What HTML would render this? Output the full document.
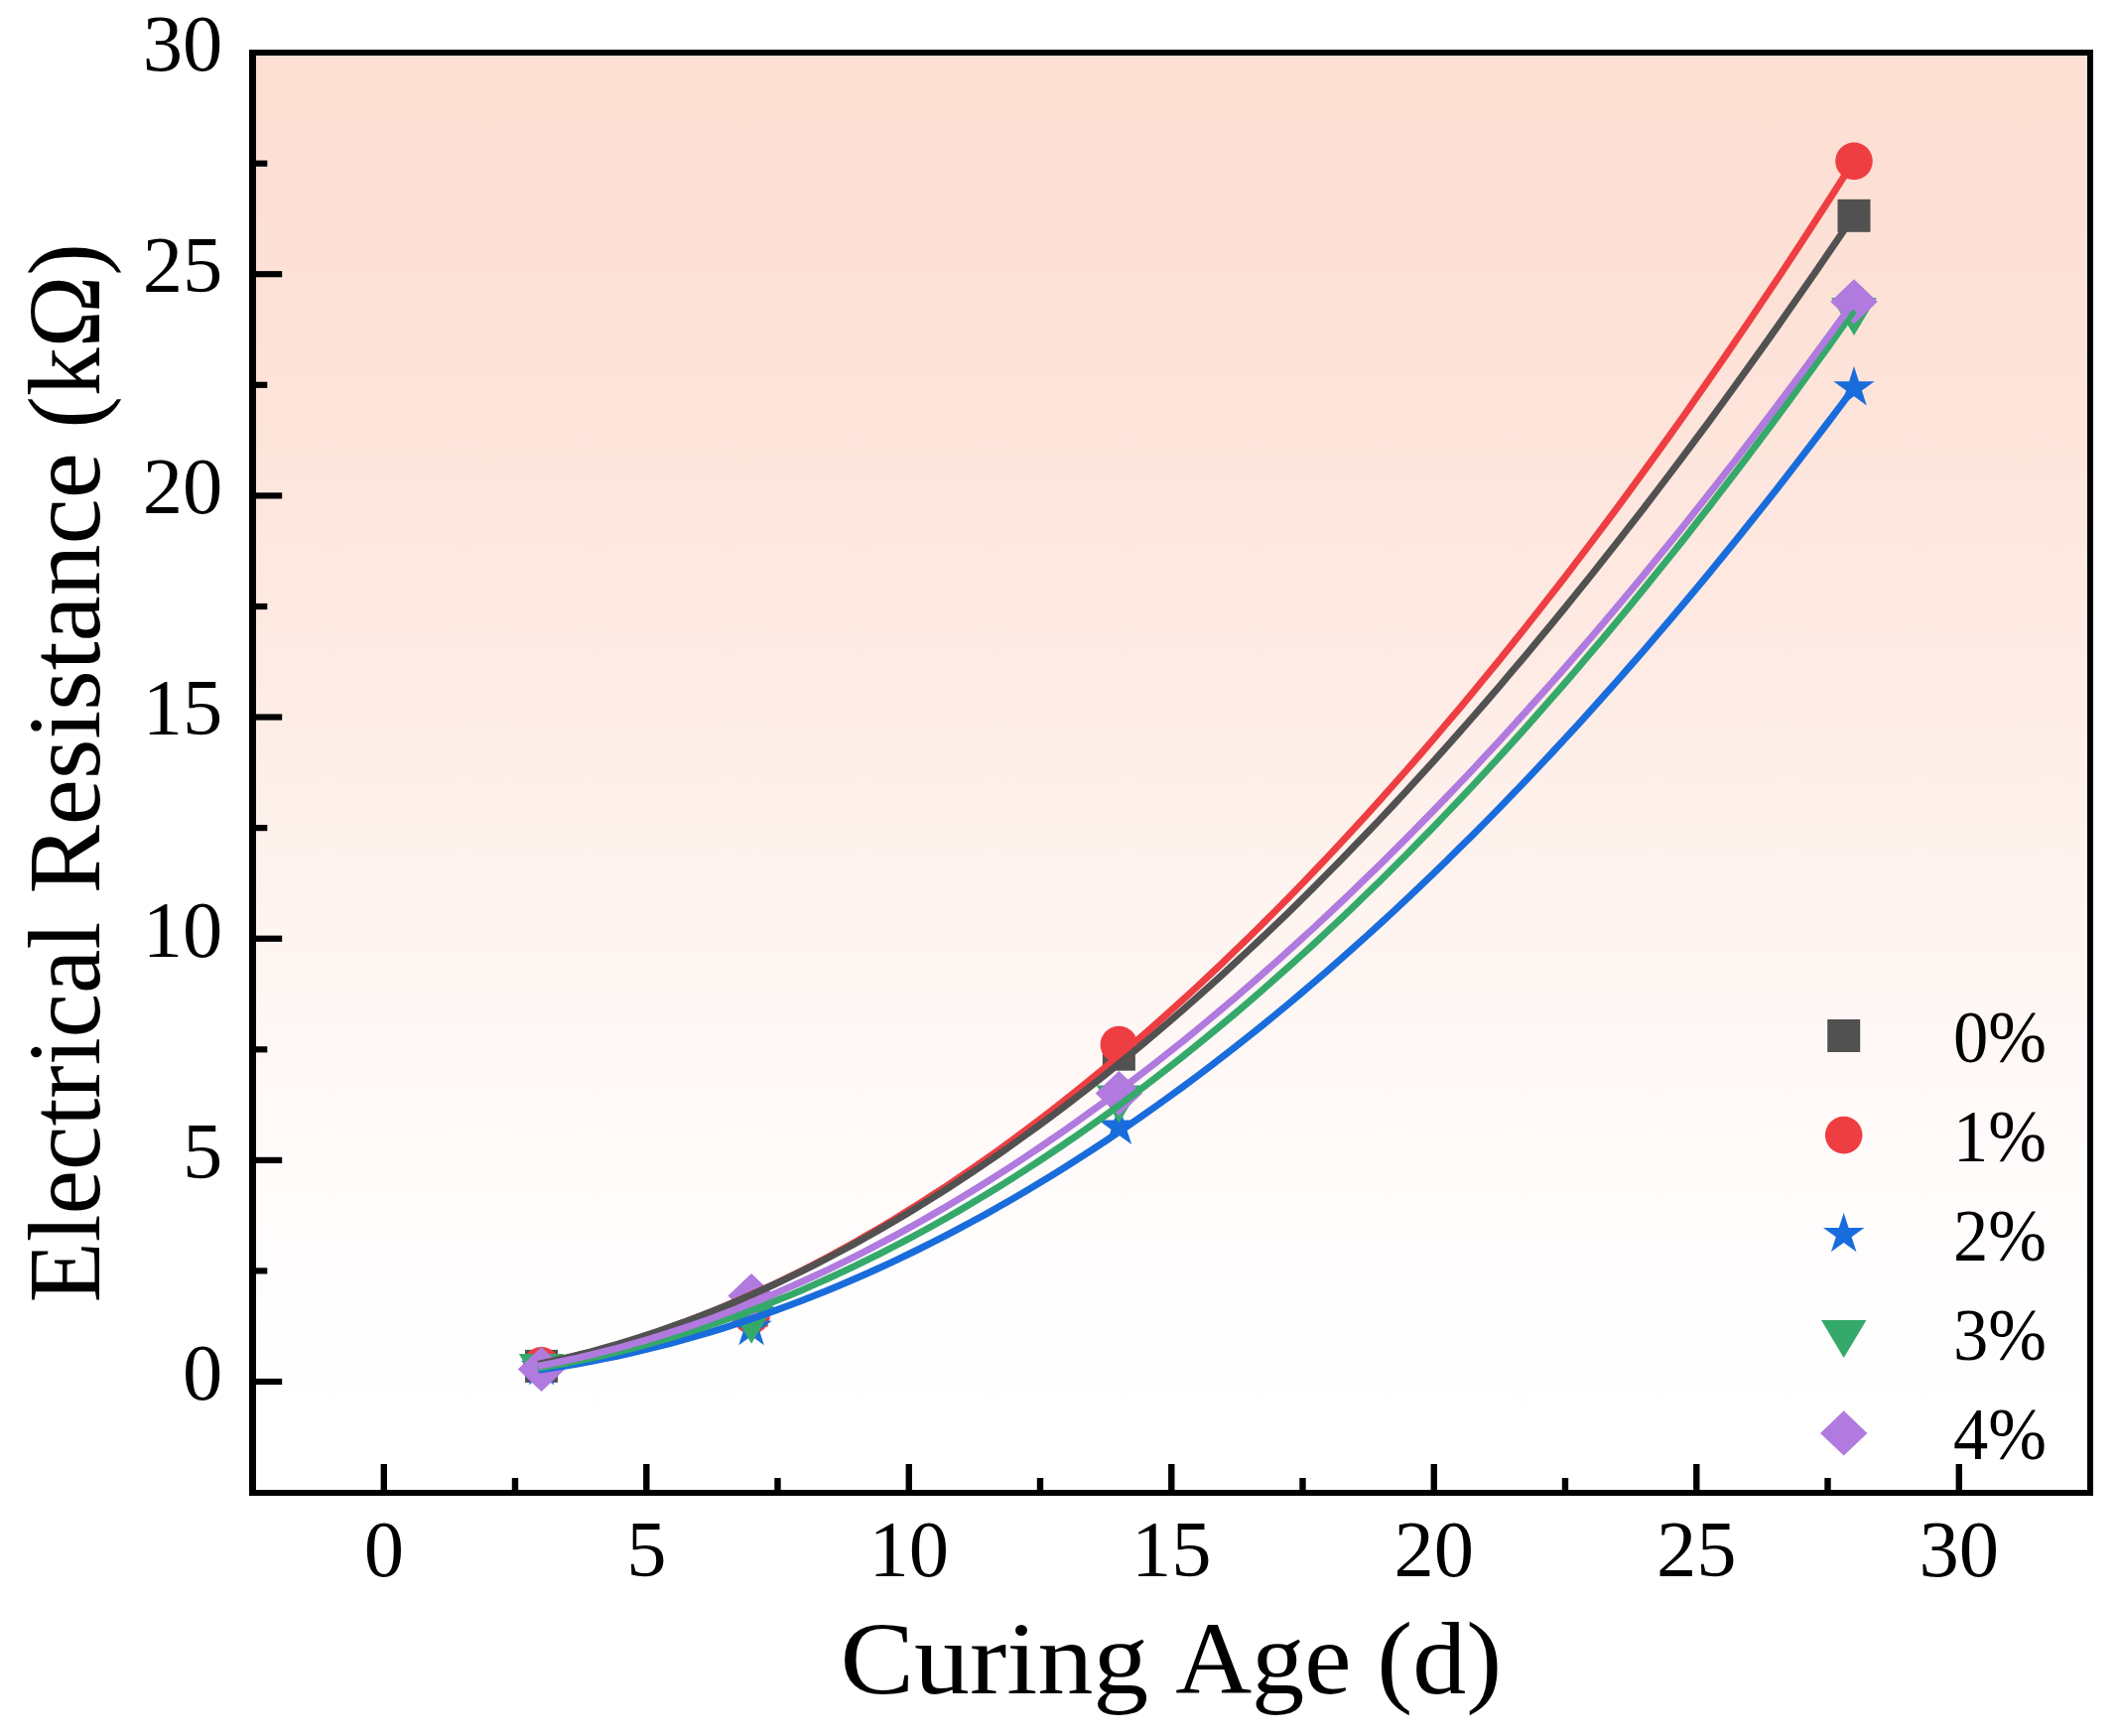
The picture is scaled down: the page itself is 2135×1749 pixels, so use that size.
<!DOCTYPE html>
<html lang="en"><head><meta charset="utf-8"><title>Electrical Resistance vs Curing Age</title>
<style>html,body{margin:0;padding:0;background:#fff}svg{display:block}text{font-family:"Liberation Serif","DejaVu Serif",serif;fill:#000}</style></head><body>
<svg width="2135" height="1749" viewBox="0 0 2135 1749">
<defs><linearGradient id="bg" x1="0" y1="0" x2="0" y2="1"><stop offset="0.00" stop-color="#FDDFD4"/><stop offset="0.05" stop-color="#FDDFD4"/><stop offset="0.10" stop-color="#FDE0D5"/><stop offset="0.15" stop-color="#FDE1D6"/><stop offset="0.20" stop-color="#FDE2D8"/><stop offset="0.25" stop-color="#FDE4DA"/><stop offset="0.30" stop-color="#FDE6DD"/><stop offset="0.35" stop-color="#FEE8E0"/><stop offset="0.40" stop-color="#FEEAE3"/><stop offset="0.45" stop-color="#FEECE6"/><stop offset="0.50" stop-color="#FEEFEA"/><stop offset="0.55" stop-color="#FEF2ED"/><stop offset="0.60" stop-color="#FEF4F0"/><stop offset="0.65" stop-color="#FEF6F3"/><stop offset="0.70" stop-color="#FFF8F6"/><stop offset="0.75" stop-color="#FFFAF9"/><stop offset="0.80" stop-color="#FFFCFB"/><stop offset="0.85" stop-color="#FFFDFD"/><stop offset="0.90" stop-color="#FFFEFE"/><stop offset="0.95" stop-color="#FFFFFF"/><stop offset="1.00" stop-color="#FFFFFF"/></linearGradient></defs>
<rect x="0" y="0" width="2135" height="1749" fill="#fff"/>
<rect x="255" y="53" width="1851" height="1451" fill="url(#bg)"/>
<g id="markers">
<rect x="529.0" y="1359.9" width="33" height="33" fill="#515151"/>
<rect x="740.6" y="1303.6" width="33" height="33" fill="#515151"/>
<rect x="1110.9" y="1045.7" width="33" height="33" fill="#515151"/>
<rect x="1851.5" y="200.8" width="33" height="33" fill="#515151"/>
<circle cx="545.5" cy="1375.9" r="18.8" fill="#EF3E42"/>
<circle cx="757.1" cy="1325.1" r="18.8" fill="#EF3E42"/>
<circle cx="1127.4" cy="1052.5" r="18.8" fill="#EF3E42"/>
<circle cx="1868.0" cy="162.4" r="18.8" fill="#EF3E42"/>
<polygon points="545.5,1355.9 550.4,1371.0 566.2,1371.0 553.4,1380.3 558.3,1395.4 545.5,1386.0 532.7,1395.4 537.6,1380.3 524.8,1371.0 540.6,1371.0" fill="#196CDC"/>
<polygon points="757.1,1315.8 762.0,1330.8 777.8,1330.8 765.0,1340.1 769.9,1355.2 757.1,1345.9 744.3,1355.2 749.2,1340.1 736.4,1330.8 752.2,1330.8" fill="#196CDC"/>
<polygon points="1127.4,1113.6 1132.3,1128.6 1148.1,1128.6 1135.3,1138.0 1140.2,1153.0 1127.4,1143.7 1114.6,1153.0 1119.5,1138.0 1106.7,1128.6 1122.5,1128.6" fill="#196CDC"/>
<polygon points="1868.0,369.1 1872.9,384.2 1888.7,384.2 1875.9,393.5 1880.8,408.6 1868.0,399.3 1855.2,408.6 1860.1,393.5 1847.3,384.2 1863.1,384.2" fill="#196CDC"/>
<polygon points="522.8,1363.9 568.2,1363.9 545.5,1401.9" fill="#35A96A"/>
<polygon points="734.4,1315.7 779.9,1315.7 757.1,1353.7" fill="#35A96A"/>
<polygon points="1104.7,1093.5 1150.2,1093.5 1127.4,1131.5" fill="#35A96A"/>
<polygon points="1845.2,299.9 1890.8,299.9 1868.0,337.9" fill="#35A96A"/>
<polygon points="521.8,1379.5 545.5,1356.9 569.2,1379.5 545.5,1402.1" fill="#B07ADE"/>
<polygon points="733.4,1305.6 757.1,1283.0 780.8,1305.6 757.1,1328.2" fill="#B07ADE"/>
<polygon points="1103.7,1101.5 1127.4,1078.9 1151.1,1101.5 1127.4,1124.1" fill="#B07ADE"/>
<polygon points="1844.3,303.9 1868.0,281.3 1891.7,303.9 1868.0,326.5" fill="#B07ADE"/>
</g>
<g id="fits" fill="none" stroke-width="7" stroke-linecap="butt" stroke-linejoin="round">
<path d="M542.3 1374.7L555.6 1371.9L568.8 1368.9L582.1 1365.7L595.4 1362.3L608.6 1358.7L621.9 1354.8L635.1 1350.8L648.4 1346.6L661.6 1342.1L674.9 1337.5L688.2 1332.6L701.4 1327.6L714.7 1322.4L727.9 1316.9L741.2 1311.3L754.4 1305.5L767.7 1299.5L780.9 1293.3L794.2 1286.9L807.5 1280.3L820.7 1273.5L834.0 1266.5L847.2 1259.3L860.5 1252.0L873.7 1244.4L887.0 1236.7L900.3 1228.7L913.5 1220.6L926.8 1212.3L940.0 1203.8L953.3 1195.1L966.5 1186.2L979.8 1177.2L993.1 1167.9L1006.3 1158.5L1019.6 1148.9L1032.8 1139.1L1046.1 1129.1L1059.3 1118.9L1072.6 1108.6L1085.9 1098.0L1099.1 1087.3L1112.4 1076.4L1125.6 1065.3L1138.9 1054.0L1152.1 1042.6L1165.4 1031.0L1178.6 1019.1L1191.9 1007.1L1205.2 995.0L1218.4 982.6L1231.7 970.1L1244.9 957.3L1258.2 944.4L1271.4 931.4L1284.7 918.1L1298.0 904.7L1311.2 891.1L1324.5 877.3L1337.7 863.3L1351.0 849.2L1364.2 834.8L1377.5 820.3L1390.8 805.7L1404.0 790.8L1417.3 775.8L1430.5 760.6L1443.8 745.2L1457.0 729.6L1470.3 713.9L1483.6 698.0L1496.8 681.9L1510.1 665.7L1523.3 649.2L1536.6 632.6L1549.8 615.9L1563.1 598.9L1576.4 581.8L1589.6 564.5L1602.9 547.0L1616.1 529.4L1629.4 511.6L1642.6 493.6L1655.9 475.4L1669.1 457.1L1682.4 438.6L1695.7 420.0L1708.9 401.1L1722.2 382.1L1735.4 363.0L1748.7 343.6L1761.9 324.1L1775.2 304.4L1788.5 284.6L1801.7 264.6L1815.0 244.4L1828.2 224.0L1841.5 203.5L1854.7 182.8L1868.0 162.0" stroke="#EF3E42"/>
<path d="M542.3 1374.3L555.6 1371.5L568.8 1368.4L582.1 1365.2L595.4 1361.8L608.6 1358.2L621.9 1354.4L635.1 1350.3L648.4 1346.1L661.6 1341.7L674.9 1337.1L688.2 1332.4L701.4 1327.4L714.7 1322.2L727.9 1316.9L741.2 1311.4L754.4 1305.6L767.7 1299.7L780.9 1293.7L794.2 1287.4L807.5 1280.9L820.7 1274.3L834.0 1267.5L847.2 1260.5L860.5 1253.3L873.7 1246.0L887.0 1238.4L900.3 1230.7L913.5 1222.9L926.8 1214.8L940.0 1206.6L953.3 1198.2L966.5 1189.6L979.8 1180.8L993.1 1171.9L1006.3 1162.8L1019.6 1153.5L1032.8 1144.0L1046.1 1134.4L1059.3 1124.6L1072.6 1114.6L1085.9 1104.5L1099.1 1094.2L1112.4 1083.7L1125.6 1073.1L1138.9 1062.2L1152.1 1051.3L1165.4 1040.1L1178.6 1028.8L1191.9 1017.3L1205.2 1005.6L1218.4 993.8L1231.7 981.8L1244.9 969.7L1258.2 957.3L1271.4 944.9L1284.7 932.2L1298.0 919.4L1311.2 906.4L1324.5 893.3L1337.7 879.9L1351.0 866.5L1364.2 852.8L1377.5 839.0L1390.8 825.1L1404.0 811.0L1417.3 796.7L1430.5 782.2L1443.8 767.6L1457.0 752.9L1470.3 737.9L1483.6 722.8L1496.8 707.6L1510.1 692.2L1523.3 676.6L1536.6 660.9L1549.8 645.0L1563.1 629.0L1576.4 612.8L1589.6 596.4L1602.9 579.9L1616.1 563.2L1629.4 546.4L1642.6 529.4L1655.9 512.3L1669.1 495.0L1682.4 477.5L1695.7 459.9L1708.9 442.2L1722.2 424.3L1735.4 406.2L1748.7 388.0L1761.9 369.6L1775.2 351.1L1788.5 332.4L1801.7 313.5L1815.0 294.6L1828.2 275.4L1841.5 256.1L1854.7 236.7L1868.0 217.1" stroke="#515151"/>
<path d="M542.3 1380.3L555.6 1378.4L568.8 1376.3L582.1 1374.0L595.4 1371.6L608.6 1368.9L621.9 1366.2L635.1 1363.3L648.4 1360.2L661.6 1356.9L674.9 1353.5L688.2 1349.9L701.4 1346.2L714.7 1342.3L727.9 1338.3L741.2 1334.0L754.4 1329.7L767.7 1325.1L780.9 1320.4L794.2 1315.5L807.5 1310.5L820.7 1305.3L834.0 1300.0L847.2 1294.5L860.5 1288.8L873.7 1283.0L887.0 1277.0L900.3 1270.8L913.5 1264.5L926.8 1258.0L940.0 1251.4L953.3 1244.6L966.5 1237.7L979.8 1230.5L993.1 1223.3L1006.3 1215.8L1019.6 1208.2L1032.8 1200.5L1046.1 1192.5L1059.3 1184.5L1072.6 1176.2L1085.9 1167.8L1099.1 1159.2L1112.4 1150.5L1125.6 1141.6L1138.9 1132.6L1152.1 1123.4L1165.4 1114.0L1178.6 1104.5L1191.9 1094.8L1205.2 1085.0L1218.4 1075.0L1231.7 1064.8L1244.9 1054.5L1258.2 1044.0L1271.4 1033.4L1284.7 1022.6L1298.0 1011.6L1311.2 1000.5L1324.5 989.2L1337.7 977.8L1351.0 966.2L1364.2 954.4L1377.5 942.5L1390.8 930.4L1404.0 918.2L1417.3 905.8L1430.5 893.2L1443.8 880.5L1457.0 867.7L1470.3 854.6L1483.6 841.4L1496.8 828.1L1510.1 814.6L1523.3 800.9L1536.6 787.1L1549.8 773.2L1563.1 759.0L1576.4 744.7L1589.6 730.3L1602.9 715.7L1616.1 700.9L1629.4 686.0L1642.6 670.9L1655.9 655.7L1669.1 640.3L1682.4 624.7L1695.7 609.0L1708.9 593.2L1722.2 577.2L1735.4 561.0L1748.7 544.7L1761.9 528.2L1775.2 511.6L1788.5 494.8L1801.7 477.8L1815.0 460.7L1828.2 443.4L1841.5 426.0L1854.7 408.5L1868.0 390.7" stroke="#196CDC"/>
<path d="M542.3 1378.4L555.6 1376.1L568.8 1373.7L582.1 1371.1L595.4 1368.3L608.6 1365.3L621.9 1362.2L635.1 1358.9L648.4 1355.4L661.6 1351.7L674.9 1347.9L688.2 1343.8L701.4 1339.6L714.7 1335.3L727.9 1330.7L741.2 1326.0L754.4 1321.1L767.7 1316.1L780.9 1310.8L794.2 1305.4L807.5 1299.9L820.7 1294.1L834.0 1288.2L847.2 1282.1L860.5 1275.8L873.7 1269.4L887.0 1262.8L900.3 1256.0L913.5 1249.1L926.8 1242.0L940.0 1234.7L953.3 1227.2L966.5 1219.6L979.8 1211.8L993.1 1203.8L1006.3 1195.7L1019.6 1187.4L1032.8 1178.9L1046.1 1170.3L1059.3 1161.5L1072.6 1152.5L1085.9 1143.4L1099.1 1134.1L1112.4 1124.6L1125.6 1115.0L1138.9 1105.2L1152.1 1095.2L1165.4 1085.0L1178.6 1074.7L1191.9 1064.2L1205.2 1053.6L1218.4 1042.8L1231.7 1031.8L1244.9 1020.7L1258.2 1009.4L1271.4 997.9L1284.7 986.2L1298.0 974.4L1311.2 962.5L1324.5 950.3L1337.7 938.0L1351.0 925.6L1364.2 912.9L1377.5 900.1L1390.8 887.2L1404.0 874.0L1417.3 860.8L1430.5 847.3L1443.8 833.7L1457.0 819.9L1470.3 806.0L1483.6 791.9L1496.8 777.6L1510.1 763.2L1523.3 748.6L1536.6 733.8L1549.8 718.9L1563.1 703.8L1576.4 688.6L1589.6 673.2L1602.9 657.6L1616.1 641.9L1629.4 626.0L1642.6 610.0L1655.9 593.8L1669.1 577.4L1682.4 560.9L1695.7 544.2L1708.9 527.3L1722.2 510.3L1735.4 493.2L1748.7 475.8L1761.9 458.4L1775.2 440.7L1788.5 422.9L1801.7 404.9L1815.0 386.8L1828.2 368.5L1841.5 350.1L1854.7 331.5L1868.0 312.8" stroke="#35A96A"/>
<path d="M542.3 1376.2L555.6 1373.7L568.8 1371.0L582.1 1368.1L595.4 1365.0L608.6 1361.7L621.9 1358.3L635.1 1354.7L648.4 1350.9L661.6 1346.9L674.9 1342.7L688.2 1338.4L701.4 1333.9L714.7 1329.2L727.9 1324.3L741.2 1319.3L754.4 1314.1L767.7 1308.7L780.9 1303.2L794.2 1297.4L807.5 1291.5L820.7 1285.5L834.0 1279.3L847.2 1272.9L860.5 1266.3L873.7 1259.6L887.0 1252.7L900.3 1245.6L913.5 1238.4L926.8 1231.0L940.0 1223.4L953.3 1215.7L966.5 1207.8L979.8 1199.7L993.1 1191.5L1006.3 1183.1L1019.6 1174.6L1032.8 1165.9L1046.1 1157.0L1059.3 1148.0L1072.6 1138.8L1085.9 1129.4L1099.1 1119.9L1112.4 1110.3L1125.6 1100.4L1138.9 1090.4L1152.1 1080.3L1165.4 1070.0L1178.6 1059.5L1191.9 1048.9L1205.2 1038.1L1218.4 1027.1L1231.7 1016.0L1244.9 1004.8L1258.2 993.4L1271.4 981.8L1284.7 970.1L1298.0 958.2L1311.2 946.1L1324.5 934.0L1337.7 921.6L1351.0 909.1L1364.2 896.4L1377.5 883.6L1390.8 870.7L1404.0 857.5L1417.3 844.3L1430.5 830.8L1443.8 817.3L1457.0 803.5L1470.3 789.6L1483.6 775.6L1496.8 761.4L1510.1 747.1L1523.3 732.6L1536.6 717.9L1549.8 703.2L1563.1 688.2L1576.4 673.1L1589.6 657.9L1602.9 642.5L1616.1 626.9L1629.4 611.3L1642.6 595.4L1655.9 579.4L1669.1 563.3L1682.4 547.0L1695.7 530.6L1708.9 514.0L1722.2 497.3L1735.4 480.4L1748.7 463.4L1761.9 446.2L1775.2 428.9L1788.5 411.5L1801.7 393.9L1815.0 376.1L1828.2 358.2L1841.5 340.2L1854.7 322.0L1868.0 303.7" stroke="#B07ADE"/>
</g>
<g id="ticks" fill="#000">
<rect x="383.6" y="1475" width="6.4" height="28"/>
<rect x="515.8" y="1489" width="6.4" height="14"/>
<rect x="648.1" y="1475" width="6.4" height="28"/>
<rect x="780.3" y="1489" width="6.4" height="14"/>
<rect x="912.6" y="1475" width="6.4" height="28"/>
<rect x="1044.8" y="1489" width="6.4" height="14"/>
<rect x="1177.1" y="1475" width="6.4" height="28"/>
<rect x="1309.3" y="1489" width="6.4" height="14"/>
<rect x="1441.6" y="1475" width="6.4" height="28"/>
<rect x="1573.8" y="1489" width="6.4" height="14"/>
<rect x="1706.1" y="1475" width="6.4" height="28"/>
<rect x="1838.3" y="1489" width="6.4" height="14"/>
<rect x="1970.6" y="1475" width="6.4" height="28"/>
<rect x="256" y="1388.9" width="28.2" height="6.2"/>
<rect x="256" y="1277.3" width="13.3" height="6.2"/>
<rect x="256" y="1165.8" width="28.2" height="6.2"/>
<rect x="256" y="1054.2" width="13.3" height="6.2"/>
<rect x="256" y="942.6" width="28.2" height="6.2"/>
<rect x="256" y="831.0" width="13.3" height="6.2"/>
<rect x="256" y="719.4" width="28.2" height="6.2"/>
<rect x="256" y="607.9" width="13.3" height="6.2"/>
<rect x="256" y="496.3" width="28.2" height="6.2"/>
<rect x="256" y="384.7" width="13.3" height="6.2"/>
<rect x="256" y="273.1" width="28.2" height="6.2"/>
<rect x="256" y="161.6" width="13.3" height="6.2"/>
</g>
<g id="frame" fill="#000"><rect x="251" y="50" width="7" height="1457"/><rect x="251" y="50" width="1858" height="6"/><rect x="2103" y="50" width="6" height="1457"/><rect x="251" y="1501" width="1858" height="6"/></g>
<g id="xlabels" font-size="80.6" text-anchor="middle">
<text x="386.8" y="1587.8">0</text>
<text x="651.3" y="1587.8">5</text>
<text x="915.8" y="1587.8">10</text>
<text x="1180.3" y="1587.8">15</text>
<text x="1444.8" y="1587.8">20</text>
<text x="1709.3" y="1587.8">25</text>
<text x="1973.8" y="1587.8">30</text>
</g>
<g id="ylabels" font-size="80.6" text-anchor="end">
<text x="224.3" y="1409.8">0</text>
<text x="224.3" y="1186.6">5</text>
<text x="224.3" y="963.5">10</text>
<text x="224.3" y="740.3">15</text>
<text x="224.3" y="517.2">20</text>
<text x="224.3" y="294.1">25</text>
<text x="224.3" y="70.9">30</text>
</g>
<text id="xtitle" y="1706" font-size="103" xml:space="preserve"><tspan x="846.5" textLength="310.8" lengthAdjust="spacingAndGlyphs">Curing</tspan> <tspan x="1184.2" textLength="177.4" lengthAdjust="spacingAndGlyphs">Age</tspan> <tspan x="1387.3" textLength="125.9" lengthAdjust="spacingAndGlyphs">(d)</tspan></text>
<text id="ytitle" transform="translate(100,1309.2) rotate(-90)" font-size="103" xml:space="preserve"><tspan x="-3.3" textLength="383.9" lengthAdjust="spacingAndGlyphs">Electrical</tspan> <tspan x="408.7" textLength="444.3" lengthAdjust="spacingAndGlyphs">Resistance</tspan> <tspan x="877.6" textLength="186.3" lengthAdjust="spacingAndGlyphs">(kΩ)</tspan></text>
<g id="legend">
<rect x="1841.2" y="1027.0" width="33" height="33" fill="#515151"/>
<text x="1968" y="1069.6" font-size="73.5" textLength="94" lengthAdjust="spacingAndGlyphs">0%</text>
<circle cx="1857.7" cy="1143.6" r="18.8" fill="#EF3E42"/>
<text x="1968" y="1169.8" font-size="73.5" textLength="94" lengthAdjust="spacingAndGlyphs">1%</text>
<polygon points="1857.7,1221.9 1862.6,1237.0 1878.4,1237.0 1865.6,1246.3 1870.5,1261.3 1857.7,1252.0 1844.9,1261.3 1849.8,1246.3 1837.0,1237.0 1852.8,1237.0" fill="#196CDC"/>
<text x="1968" y="1270.0" font-size="73.5" textLength="94" lengthAdjust="spacingAndGlyphs">2%</text>
<polygon points="1835.0,1330.0 1880.5,1330.0 1857.7,1368.0" fill="#35A96A"/>
<text x="1968" y="1370.2" font-size="73.5" textLength="94" lengthAdjust="spacingAndGlyphs">3%</text>
<polygon points="1834.0,1443.9 1857.7,1421.3 1881.4,1443.9 1857.7,1466.5" fill="#B07ADE"/>
<text x="1968" y="1470.4" font-size="73.5" textLength="94" lengthAdjust="spacingAndGlyphs">4%</text>
</g>
</svg></body></html>
